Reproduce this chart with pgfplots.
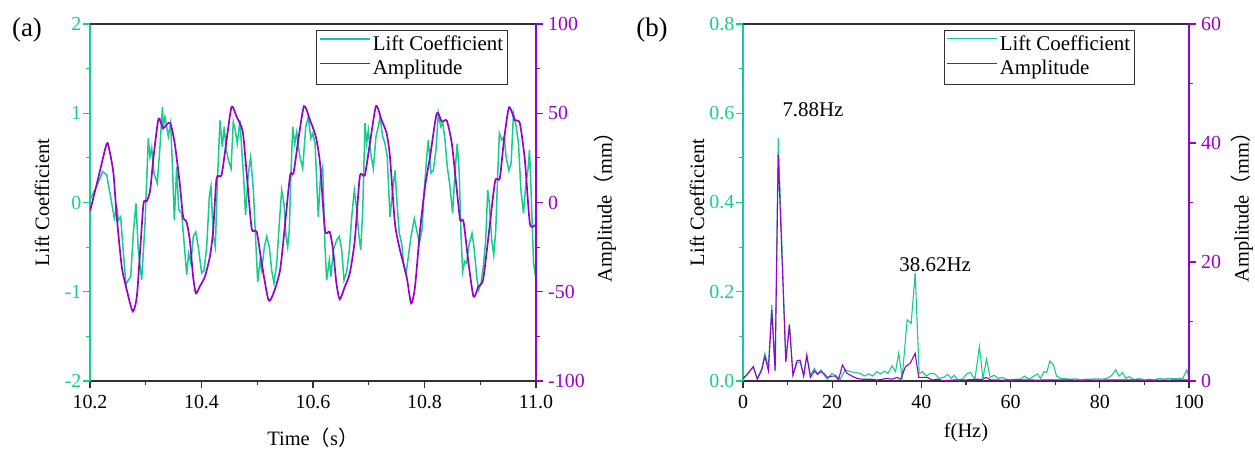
\documentclass[border=0pt]{standalone}
\usepackage{fontspec}
\setmainfont{Liberation Serif}
\newfontfamily\cjk{Noto Sans CJK SC}
\usepackage{pgfplots}
\pgfplotsset{compat=1.18}
\definecolor{lc}{RGB}{22,206,140}
\definecolor{am}{RGB}{153,0,204}
\definecolor{ax}{RGB}{50,50,50}

\pgfplotstableread{
t v
10.200 0.03
10.212 0.18
10.2227 0.345
10.230 0.31
10.239 -0.01
10.2436 -0.18
10.248 -0.05
10.251 -0.20
10.255 -0.16
10.260 -0.57
10.2646 -0.92
10.2687 -0.87
10.273 -0.83
10.2777 -0.345
10.2825 -0.01
10.2866 -0.53
10.2927 -0.87
10.2987 -0.23
10.3046 0.72
10.3076 0.51
10.3107 0.61
10.3148 0.33
10.3207 0.215
10.3255 0.625
10.330 1.07
10.3315 0.85
10.3345 0.96
10.3405 0.74
10.3447 0.89
10.3483 0.33
10.3513 -0.20
10.3555 0.40
10.3591 -0.08
10.3644 -0.12
10.3704 -0.57
10.3734 -0.81
10.377 -0.57
10.381 -0.68
10.3853 -0.38
10.3896 -0.33
10.3943 -0.50
10.4003 -0.79
10.4045 -0.76
10.4093 -0.50
10.414 0.065
10.417 0.18
10.4212 -0.38
10.4248 -0.50
10.4284 0.215
10.4332 0.92
10.4373 0.625
10.4409 0.85
10.444 0.61
10.448 0.48
10.453 0.38
10.457 0.905
10.4606 0.81
10.4642 0.66
10.469 0.92
10.4731 0.51
10.4762 0.215
10.479 -0.14
10.4838 0.31
10.4882 0.51
10.493 0.14
10.4978 -0.50
10.5008 -0.89
10.505 -0.66
10.508 -0.76
10.5127 -0.50
10.517 -0.38
10.5217 -0.50
10.5259 -0.76
10.530 -0.905
10.535 -0.68
10.5396 -0.23
10.5438 0.14
10.548 -0.01
10.5516 -0.38
10.5546 -0.50
10.5575 -0.31
10.5605 0.33
10.5636 0.85
10.5672 0.66
10.5708 0.79
10.5744 0.60
10.5767 0.51
10.5815 0.38
10.5870 0.85
10.5916 0.96
10.5960 0.72
10.5995 0.775
10.6037 0.66
10.6095 -0.16
10.6138 0.33
10.6174 0.40
10.6215 -0.50
10.6245 -0.87
10.6293 -0.645
10.6323 -0.83
10.6364 -0.53
10.6426 -0.42
10.6472 -0.38
10.6515 -0.53
10.6556 -0.87
10.6605 -0.775
10.6652 -0.53
10.6695 -0.16
10.6741 0.14
10.6784 -0.08
10.6825 -0.38
10.6856 -0.53
10.6892 -0.08
10.6933 0.89
10.6963 0.66
10.6992 0.81
10.7035 0.55
10.7082 0.38
10.7130 0.74
10.7172 0.85
10.7202 0.96
10.7250 0.74
10.7291 0.66
10.7332 0.51
10.7381 -0.16
10.7430 0.14
10.7471 0.36
10.7512 -0.05
10.7548 -0.345
10.7591 -0.46
10.7632 -0.72
10.7668 -0.81
10.7709 -0.61
10.7758 -0.38
10.7817 -0.18
10.7860 -0.31
10.7907 -0.46
10.7955 -0.31
10.7996 0.14
10.8040 0.51
10.8068 0.70
10.8117 0.33
10.8158 0.36
10.8206 0.59
10.8248 1.00
10.8291 0.85
10.8327 0.89
10.8368 0.70
10.8409 0.40
10.8457 0.18
10.8504 -0.12
10.8546 0.33
10.8587 0.66
10.8623 0.33
10.8654 -0.345
10.8684 -0.775
10.8720 -0.66
10.8756 -0.68
10.8803 -0.46
10.8852 -0.345
10.8888 -0.50
10.8936 -0.83
10.8972 -0.98
10.9013 -0.905
10.9055 -0.72
10.9098 -0.42
10.9134 0.14
10.9163 -0.01
10.9206 -0.42
10.9242 -0.59
10.9278 -0.31
10.9314 0.33
10.9343 0.775
10.9386 0.70
10.9428 0.74
10.9464 0.51
10.9513 0.36
10.9554 0.44
10.9596 1.00
10.9645 0.85
10.9686 0.66
10.9729 0.14
10.9776 -0.12
10.9819 0.215
10.9855 0.36
10.9884 0.59
10.9915 0.065
10.9956 -0.68
10.9987 -0.81
11.000 -0.80
}\liftdata

\pgfplotstableread{
t a
10.200 -5
10.215 14
10.2300 33
10.2350 29
10.2420 16.5
10.2480 -8
10.2570 -36
10.2660 -49
10.2766 -61
10.2840 -52.8
10.2900 -26.6
10.2960 -0.5
10.3020 0.8
10.3080 7
10.3140 25.7
10.3230 47
10.3310 41.6
10.3435 44.7
10.3520 33
10.3610 10.7
10.3670 -8
10.3730 -10.7
10.3790 -21
10.3850 -41.6
10.3900 -50.9
10.3970 -47
10.4060 -41.6
10.4150 -30.4
10.4210 -15.4
10.4270 13.5
10.4360 15.4
10.4450 35
10.4540 53.7
10.4630 48
10.4740 39.7
10.4810 16.4
10.4900 -14.5
10.4990 -16.4
10.5080 -34
10.5200 -54.6
10.5290 -50.9
10.5410 -37.8
10.5500 -11.7
10.5590 15.4
10.5650 16.4
10.5736 35
10.5839 54
10.5946 46.2
10.6050 36.9
10.6126 22
10.6215 -15.4
10.6300 -16.4
10.6360 -26.6
10.6420 -45.3
10.6480 -54.2
10.6570 -47.2
10.6660 -39.7
10.6750 -21
10.6840 14.5
10.6930 15.4
10.7020 33
10.7130 54
10.7230 46.2
10.7320 38.8
10.7380 25.7
10.7470 -11.7
10.7560 -26.6
10.7680 -41.6
10.7760 -56.5
10.7830 -47.2
10.7920 -15.4
10.8010 8.9
10.8100 25.7
10.8220 50
10.8310 45.3
10.8400 45.8
10.8490 33
10.8580 7
10.8640 -9.8
10.8700 -10.7
10.8790 -34
10.8880 -52.8
10.8965 -47.2
10.9050 -43.4
10.9140 -21
10.9265 11.7
10.9350 13.5
10.9426 35
10.9516 53.3
10.9620 46.2
10.9710 44.4
10.9800 23.8
10.9890 -11.7
10.9980 -12.6
}\ampdata

\pgfplotstableread{
f v
0 0.004
0.8 0.013
2.3 0.032
3.2 0.006
4.2 0.028
4.9 0.062
5.7 0.032
6.45 0.17
7.2 0.025
7.9 0.545
9.6 0.047
10.4 0.128
11.2 0.013
12.1 0.04
12.8 0.043
13.6 0.013
14.3 0.055
15.1 0.013
16.0 0.028
16.7 0.016
17.5 0.025
18.2 0.013
18.9 0.004
19.9 0.017
21.0 0.011
21.8 0.004
22.9 0.025
24.0 0.021
25.2 0.019
26.3 0.017
27.2 0.011
28.2 0.016
29.1 0.011
30.0 0.021
30.8 0.016
31.7 0.022
32.5 0.017
33.4 0.034
34.2 0.021
34.9 0.062
35.7 0.008
36.8 0.137
37.7 0.129
38.6 0.242
39.5 0.017
40.2 0.021
41.1 0.011
42.0 0.017
43.0 0.016
44.0 0.006
45.0 0.008
45.9 0.015
46.7 0.006
47.3 0.013
48.2 0.002
49.1 0.004
50.3 0.017
51.0 0.019
52.0 0.004
53.0 0.077
53.8 0.006
54.6 0.049
55.4 0.008
56.3 0.013
57.2 0.006
58.1 0.008
59.0 0.004
60.0 0.002
61.1 0.004
62.2 0.004
63.1 0.011
64.1 0.004
65.2 0.011
66.0 0.016
66.7 0.006
67.5 0.021
68.1 0.019
68.8 0.045
69.6 0.036
70.3 0.011
71.2 0.006
72.4 0.005
73.5 0.004
74.6 0.005
75.7 0.002
76.9 0.004
78.0 0.004
79.1 0.005
80.2 0.004
81.3 0.005
82.5 0.011
83.6 0.025
84.3 0.011
85.1 0.019
85.8 0.006
86.6 0.010
87.7 0.002
88.8 0.006
90.0 0.002
91.1 0.004
92.2 0.002
93.3 0.006
94.5 0.004
95.6 0.006
96.7 0.005
97.8 0.006
98.6 0.006
99.5 0.025
100 0.008
}\liftspec

\pgfplotstableread{
f a
0 0.45
0.8 1.0
2.3 2.4
3.2 0.3
4.2 1.85
4.9 4.1
5.7 1.7
6.45 11.9
7.2 1.7
7.9 38
9.6 3.2
10.4 9.4
11.2 1.0
12.1 3.4
12.8 3.5
13.6 0.8
14.3 4.4
15.1 0.6
16.0 1.7
16.7 1.1
17.5 1.6
18.2 1.2
18.9 0.6
19.7 0.8
20.7 0.84
21.4 0.17
22.3 2.7
23.3 1.3
24.4 0.84
25.5 0.45
26.7 0.3
27.8 0.3
28.9 0.3
30.0 0.17
31.2 0.3
32.3 0.45
33.4 0.3
34.5 0.6
35.4 0.3
36.4 2.4
37.5 3.0
38.6 4.65
39.4 0.6
40.2 0.6
41.3 0.6
42.4 0.17
43.5 0.3
45.0 0.06
47.3 0.17
50.3 0.2
52.5 0.3
53.5 0.25
54.5 0.6
55.5 0.2
58 0.15
62 0.2
66 0.15
70 0.2
75 0.15
80 0.15
85 0.2
90 0.15
95 0.15
100 0.2
}\ampspec

\pgfplotsset{
  base/.style={
    scale only axis, width=446bp, height=357bp,
    tick align=outside, major tick length=7bp, minor tick length=4bp,
    /pgf/number format/assume math mode=true,
    xticklabel={\pgfmathprintnumber{\tick}},
    yticklabel={\pgfmathprintnumber{\tick}},
    tick label style={font=\rmfamily\fontsize{20}{24}\selectfont},
    xticklabel style={yshift=-4bp},
    label style={font=\fontsize{20.5}{24}\selectfont},
    every tick/.append style={line width=1.2bp},
    clip=true,
  },
  lefty/.style={
    axis x line*=bottom, axis y line*=left,
    x axis line style={-, ax, line width=1.3bp},
    y axis line style={-, lc, line width=1.5bp},
    xtick style={ax}, ytick style={lc},
    yticklabel style={lc, inner xsep=1.5bp},
    minor tick num=1,
  },
  righty/.style={
    axis x line=none, axis y line*=right,
    y axis line style={-, am, line width=1.5bp},
    ytick style={am},
    yticklabel style={am, inner xsep=5bp},
    minor y tick num=1,
  },
  leg/.style={
    legend style={at={(1,1)}, anchor=north east, xshift=-28bp, yshift=-6bp,
      draw=ax, line width=1bp, font=\fontsize{21}{25}\selectfont,
      inner sep=2.5bp, row sep=0bp,
      nodes={inner sep=1.8bp, text height=15.5bp, text depth=5.5bp}},
    legend cell align=left,
    legend image code/.code={\draw[##1] (0bp,6.5bp) -- (50bp,6.5bp);},
  },
}

\begin{document}
\begin{tikzpicture}
% ---------- panel (a) ----------
\begin{axis}[base, lefty, at={(0,0)}, anchor=south west,
  xmin=10.2, xmax=11.0, ymin=-2, ymax=2,
  xtick={10.2,10.4,...,11.0}, ytick={-2,-1,0,1,2},
  xticklabel style={/pgf/number format/.cd, fixed, fixed zerofill, precision=1},
  xlabel={Time{\cjk（}s{\cjk）}},
  ylabel={Lift Coefficient},
  xlabel style={at={(rel axis cs:0.5,0)}, anchor=center, yshift=-57bp},
  ylabel style={at={(rel axis cs:0,0.5)}, anchor=center, yshift=48bp},
]
\addplot[lc, line width=1.5bp] table[x=t, y=v] {\liftdata};
\draw[ax, line width=1.3bp] (rel axis cs:0,1) -- (rel axis cs:1,1);
\end{axis}
\begin{axis}[base, righty, leg, at={(0,0)}, anchor=south west,
  xmin=10.2, xmax=11.0, ymin=-100, ymax=100,
  ytick={-100,-50,0,50,100},
  ylabel={Amplitude{\cjk（}mm{\cjk）}},
  ylabel style={at={(rel axis cs:1,0.5)}, anchor=center, yshift=-69bp},
]
\addlegendimage{lc, line width=1.5bp}
\addlegendentry{Lift Coefficient}
\addlegendimage{am, line width=1.6bp}
\addlegendentry{Amplitude}
\addplot[am, line width=1.7bp, smooth, tension=0.4, forget plot] table[x=t, y=a] {\ampdata};
\end{axis}
\node[font=\fontsize{27}{30}\selectfont] at (-63bp,351bp) {(a)};

% ---------- panel (b) ----------
\begin{axis}[base, lefty, at={(653bp,0)}, anchor=south west,
  xmin=0, xmax=100, ymin=0, ymax=0.8,
  xtick={0,20,...,100}, ytick={0,0.2,...,0.8},
  yticklabel style={/pgf/number format/.cd, fixed, fixed zerofill, precision=1},
  xlabel={f(Hz)},
  ylabel={Lift Coefficient},
  xlabel style={at={(rel axis cs:0.5,0)}, anchor=center, yshift=-51bp},
  ylabel style={at={(rel axis cs:0,0.5)}, anchor=center, yshift=46bp},
]
\addplot[lc, line width=1.1bp] table[x=f, y=v] {\liftspec};
\draw[ax, line width=1.3bp] (rel axis cs:0,1) -- (rel axis cs:1,1);
\node[font=\fontsize{21}{25}\selectfont] at (axis cs:15.7,0.607) {7.88Hz};
\node[font=\fontsize{21}{25}\selectfont] at (axis cs:43.1,0.26) {38.62Hz};
\end{axis}
\begin{axis}[base, righty, leg, at={(653bp,0)}, anchor=south west,
  xmin=0, xmax=100, ymin=0, ymax=60,
  ytick={0,20,40,60},
  ylabel={Amplitude{\cjk（}mm{\cjk）}},
  ylabel style={at={(rel axis cs:1,0.5)}, anchor=center, yshift=-53bp},
  legend style={xshift=-26bp},
]
\addlegendimage{lc, line width=1.2bp}
\addlegendentry{Lift Coefficient}
\addlegendimage{am, line width=1.2bp}
\addlegendentry{Amplitude}
\addplot[am, line width=1.1bp, forget plot] table[x=f, y=a] {\ampspec};
\end{axis}
\node[font=\fontsize{27}{30}\selectfont] at (562bp,351bp) {(b)};

\pgfresetboundingbox
\path[use as bounding box] (-90bp,-69bp) rectangle (1165bp,381bp);
\end{tikzpicture}
\end{document}
